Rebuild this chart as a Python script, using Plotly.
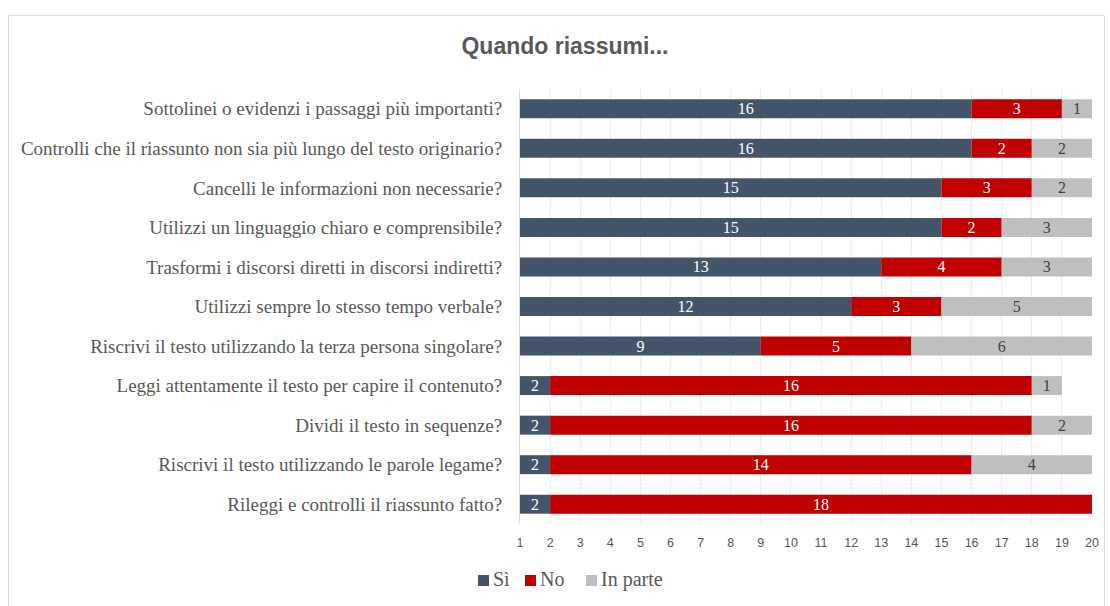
import plotly.graph_objects as go

categories = [
    "Sottolinei o evidenzi i passaggi più importanti?",
    "Controlli che il riassunto non sia più lungo del testo originario?",
    "Cancelli le informazioni non necessarie?",
    "Utilizzi un linguaggio chiaro e comprensibile?",
    "Trasformi i discorsi diretti in discorsi indiretti?",
    "Utilizzi sempre lo stesso tempo verbale?",
    "Riscrivi il testo utilizzando la terza persona singolare?",
    "Leggi attentamente il testo per capire il contenuto?",
    "Dividi il testo in sequenze?",
    "Riscrivi il testo utilizzando le parole legame?",
    "Rileggi e controlli il riassunto fatto?",
]
series_names = ["Sì", "No", "In parte"]
si = [16, 16, 15, 15, 13, 12, 9, 2, 2, 2, 2]
no = [3, 2, 3, 2, 4, 3, 5, 16, 16, 14, 18]
in_parte = [1, 2, 2, 3, 3, 5, 6, 1, 2, 4, 0]
x_ticks = list(range(1, 21))

AXIS_MIN = 1
AXIS_MAX = 20

SERIF = "Liberation Serif, Times New Roman, serif"
SANS = "Liberation Sans, Arial, sans-serif"
GRAY_TEXT = "#595959"
COLORS = ["#44546A", "#C00000", "#BFBFBF"]
LABEL_COLORS = ["white", "white", "#404040"]

fig = go.Figure()

bases = [
    [AXIS_MIN] * len(si),
    si,
    [a + b for a, b in zip(si, no)],
]
lengths = [
    [v - AXIS_MIN for v in si],
    no,
    in_parte,
]
values = [si, no, in_parte]

for name, base, length, vals, col, lcol in zip(series_names, bases, lengths, values, COLORS, LABEL_COLORS):
    fig.add_trace(go.Bar(
        name=name, y=categories, x=length, base=base,
        orientation="h", marker=dict(color=col, line=dict(width=0)),
        text=[str(v) if v else "" for v in vals], textposition="inside",
        insidetextanchor="middle", textangle=0, constraintext="none",
        textfont=dict(family=SERIF, size=16, color=lcol),
        width=0.48, showlegend=False,
        customdata=vals, hovertemplate="%{y}<br>" + name + ": %{customdata}<extra></extra>",
    ))

L, R, T, B = 520, 18, 89, 82
W = 1110 - L - R
H = 606 - T - B

def px_x(p):
    return (p - L) / W

def px_y(p):
    return (606 - B - p) / H

# custom compact legend (Excel style)
legend_x = [478, 525, 586]
shapes = [dict(type="rect", xref="paper", yref="paper",
               x0=px_x(8.5), x1=px_x(1104.5), y0=px_y(620), y1=px_y(15.5),
               line=dict(color="#d9d9d9", width=1), fillcolor="rgba(0,0,0,0)", layer="below")]
annotations = []
for name, col, lx in zip(series_names, COLORS, legend_x):
    shapes.append(dict(type="rect", xref="paper", yref="paper",
                       x0=px_x(lx), x1=px_x(lx + 11), y0=px_y(586), y1=px_y(575),
                       line=dict(width=0), fillcolor=col))
    annotations.append(dict(text=name, xref="paper", yref="paper",
                            x=px_x(lx + 13), y=px_y(579), xanchor="left", yanchor="middle",
                            showarrow=False,
                            font=dict(family=SERIF, size=20, color=GRAY_TEXT)))

fig.update_layout(
    width=1110, height=606,
    margin=dict(l=L, r=R, t=T, b=B, autoexpand=False),
    barmode="overlay",
    paper_bgcolor="white", plot_bgcolor="white",
    title=dict(text="<b>Quando riassumi...</b>", x=565 / 1110, xanchor="center",
               y=1 - 46 / 606, yanchor="middle",
               font=dict(family=SANS, size=23, color=GRAY_TEXT)),
    xaxis=dict(range=[AXIS_MIN, AXIS_MAX], tickvals=x_ticks, ticktext=[str(t) for t in x_ticks],
               showgrid=True, gridcolor="#ebebeb", gridwidth=1, zeroline=False,
               showline=False, ticks="", ticklabelstandoff=9,
               tickfont=dict(family=SANS, size=12.5, color=GRAY_TEXT), fixedrange=True),
    yaxis=dict(autorange="reversed", showgrid=False, showline=True, linecolor="#d9d9d9",
               linewidth=1, ticks="", ticklabelstandoff=13,
               tickfont=dict(family=SERIF, size=19, color=GRAY_TEXT)),
    shapes=shapes,
    annotations=annotations,
    showlegend=False,
)

fig.write_html("out.html")
